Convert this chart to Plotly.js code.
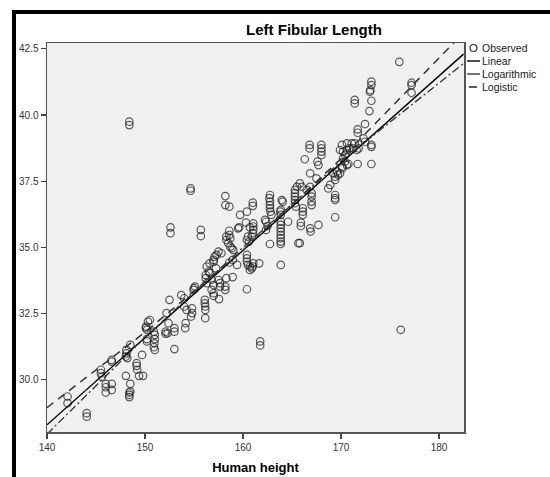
<!DOCTYPE html>
<html>
<head>
<meta charset="utf-8">
<script src="https://cdn.plot.ly/plotly-3.0.1.min.js"></script>
<style>
html,body{margin:0;padding:0;background:#fff;}
#wrap{position:relative;width:550px;height:477px;}
#chart{width:550px;height:477px;}
#frameTop{position:absolute;left:12px;top:10px;width:538px;height:4px;background:#000;pointer-events:none;}
#frameLeft{position:absolute;left:12px;top:10px;width:4px;height:467px;background:#000;pointer-events:none;}
</style>
</head>
<body>
<div id="wrap"><div id="chart"></div><div id="frameTop"></div><div id="frameLeft"></div></div>
<script>
// Observed data: human height (x) and left fibular length (y)
const height = [
142.1,142.1,144.05,144.05,145.5,145.5,145.6,146.0,146.0,146.0,146.6,146.6,146.6,146.6,
148.1,148.1,148.05,148.2,148.05,148.5,148.4,148.4,148.4,148.5,148.5,
149.15,149.15,149.2,149.4,149.8,149.7,
150.1,150.1,150.2,150.3,150.5,150.2,150.2,150.9,151.0,151.0,150.9,151.0,150.95,
152.1,152.1,152.3,152.2,152.4,153.0,153.0,153.0,152.5,
153.7,154.0,154.0,154.1,154.15,154.25,154.8,154.8,154.7,155.0,155.1,154.95,
156.1,156.1,156.15,156.15,156.15,
156.2,156.2,156.3,156.6,156.8,157.0,156.8,157.0,157.0,157.55,157.65,157.65,158.2,158.2,158.95,159.4,156.6,157.0,157.25,
156.3,156.5,157.0,157.1,157.3,157.5,157.8,157.5,158.3,160.4,
158.3,158.3,158.5,158.7,158.85,159.0,158.6,158.7,158.6,
159.6,159.7,160.4,160.3,158.6,158.95,
161.05,161.05,161.05,161.0,160.9,160.7,160.5,160.4,160.6,
160.4,160.4,160.4,160.5,160.7,160.9,160.7,161.0,161.05,161.65,
162.75,162.5,162.35,162.25,162.35,
162.7,162.75,162.75,162.75,162.8,162.9,162.75,
163.8,163.85,163.85,163.85,163.85,163.85,163.85,163.85,163.85,163.85,163.85,
164.05,163.95,163.85,164.6,
165.3,165.3,165.3,165.3,165.3,165.4,165.5,165.8,166.0,
166.1,166.1,166.1,165.9,165.9,165.65,165.8,
166.5,166.85,167.0,167.0,167.0,167.0,
166.3,166.8,166.8,167.6,167.7,168.0,168.0,168.0,168.0,
166.85,167.5,166.85,166.9,167.7,
168.7,168.9,169.2,169.4,169.4,169.6,169.7,169.4,169.4,169.4,169.4,
175.95,177.2,177.2,177.2,
173.1,173.1,173.0,172.95,173.1,172.9,171.4,171.4,172.45,171.7,171.7,
173.1,173.1,173.1,171.7,172.3,172.45,
170.6,170.85,170.6,170.4,170.2,170.1,169.9,171.4,171.25,171.6,171.8,171.1,
170.6,170.75,170.2,170.55,170.4,170.15,169.9,170.1,
148.4,148.4,154.65,154.65,152.6,152.6,155.7,155.7,158.2,158.2,158.6,159.5,161.0,161.0,
176.1,161.75,161.75
];
const fibula = [
29.37,29.12,28.74,28.61,30.38,30.25,30.12,29.85,29.72,29.52,29.85,29.62,30.75,30.69,
31.13,31.0,30.88,30.82,30.15,29.85,29.52,29.43,29.35,29.56,31.32,
30.63,30.53,30.38,30.15,30.15,30.94,
32.01,31.95,31.89,32.2,32.26,31.54,31.45,31.82,31.7,31.54,31.23,31.13,31.38,
31.82,31.74,31.76,32.52,32.14,31.95,31.82,31.16,33.02,
33.2,33.08,32.77,31.95,32.14,32.64,32.7,32.52,32.39,33.46,33.52,33.4,
33.02,32.89,32.77,32.64,32.33,
33.96,33.84,33.65,34.03,33.78,33.58,33.4,33.27,33.17,33.05,33.65,33.52,33.52,33.4,33.88,34.34,34.40,34.46,34.21,
34.28,34.09,34.53,34.65,34.72,34.84,34.78,33.77,33.84,33.42,
35.41,35.28,35.16,35.03,34.97,34.91,35.47,35.35,35.63,
35.76,36.23,36.35,35.94,34.43,34.53,
35.91,35.79,35.66,35.54,35.41,35.76,35.41,35.28,35.22,
34.72,34.59,34.46,34.34,34.28,34.21,34.15,34.28,34.40,34.40,
35.13,35.81,35.66,36.04,35.97,
36.86,36.73,36.6,36.48,36.35,36.23,36.98,
36.35,36.42,36.23,35.97,35.85,35.72,35.60,35.47,35.35,35.22,35.13,
36.73,36.79,34.34,35.97,
37.17,37.05,36.92,36.79,36.67,36.54,37.29,37.42,37.29,
36.48,36.35,36.23,35.94,35.81,35.16,35.16,
37.17,37.29,37.05,36.92,36.73,36.60,
38.33,38.87,38.74,38.24,38.11,38.87,38.74,38.62,38.49,
37.8,37.61,35.72,35.60,35.85,
37.23,37.36,37.8,37.67,37.55,37.86,37.74,36.98,36.86,36.79,36.14,
42.01,41.22,41.13,40.84,
41.26,41.13,40.94,40.88,40.54,40.15,40.57,40.44,39.66,39.46,39.33,
38.87,38.80,38.15,38.15,39.12,38.99,
38.93,38.74,38.68,38.49,38.62,38.87,38.68,38.93,38.74,38.68,38.74,38.93,
38.11,38.15,38.36,38.55,38.24,37.99,37.8,38.05,
39.75,39.62,37.23,37.14,35.76,35.54,35.66,35.43,36.94,36.6,36.54,35.72,36.69,36.57,
31.89,31.45,31.30
];
// Fitted curves
const fitX = [140, 150, 160, 170, 182.5];
const linearY = [28.3, 31.6, 34.89, 38.18, 42.3];
const logarithmicY = [27.95, 31.6, 35.0, 38.25, 41.95];
const logisticY = [28.95, 31.8, 34.9, 38.35, 43.1];
const xTicks = [140, 150, 160, 170, 180];
const yTicks = [30.0, 32.5, 35.0, 37.5, 40.0, 42.5];
const legendNames = ['Observed', 'Linear', 'Logarithmic', 'Logistic'];

const L = 47, T = 43, W = 417, H = 389;
const px = v => (v - L) / W;
const py = v => (T + H - v) / H;

const traces = [
  {x: height, y: fibula, type: 'scatter', mode: 'markers', name: legendNames[0], showlegend: false,
   marker: {symbol: 'circle-open', size: 7.5, color: 'rgba(30,30,30,0.72)', line: {width: 1.2}}},
  {x: fitX, y: linearY, type: 'scatter', mode: 'lines', name: legendNames[1], showlegend: false,
   line: {color: '#000', width: 1.4}},
  {x: fitX, y: logarithmicY, type: 'scatter', mode: 'lines', name: legendNames[2], showlegend: false,
   line: {color: '#333', width: 1.3, dash: '8px,3px,2px,3px'}},
  {x: fitX, y: logisticY, type: 'scatter', mode: 'lines', name: legendNames[3], showlegend: false,
   line: {color: '#333', width: 1.5, dash: '8px,6px'}}
];

const legY = [48, 61, 74, 87];
const shapes = [
  {type: 'circle', xref: 'paper', yref: 'paper', x0: px(470), x1: px(477), y0: py(legY[0] + 3.5), y1: py(legY[0] - 3.5),
   line: {color: '#333', width: 1.2}},
  {type: 'line', xref: 'paper', yref: 'paper', x0: px(467), x1: px(480), y0: py(legY[1]), y1: py(legY[1]), line: {color: '#000', width: 1.4}},
  {type: 'line', xref: 'paper', yref: 'paper', x0: px(467), x1: px(480), y0: py(legY[2]), y1: py(legY[2]), line: {color: '#555', width: 1.6}},
  {type: 'line', xref: 'paper', yref: 'paper', x0: px(469), x1: px(477), y0: py(legY[3]), y1: py(legY[3]), line: {color: '#333', width: 1.6}}
];
const annotations = legendNames.map((n, i) => ({
  text: n, xref: 'paper', yref: 'paper', x: px(480), y: py(legY[i]), xanchor: 'left', yanchor: 'middle',
  showarrow: false, font: {family: 'Liberation Sans, Arial, sans-serif', size: 10.5, color: '#222'}
}));

const layout = {
  width: 550, height: 477,
  margin: {l: L, t: T, r: 550 - L - W, b: 477 - T - H, pad: 0},
  paper_bgcolor: '#fff', plot_bgcolor: '#f0f0f0',
  font: {family: 'Liberation Sans, Arial, sans-serif', size: 10, color: '#333'},
  title: {text: '<b>Left Fibular Length</b>', x: px(314), xref: 'paper', xanchor: 'center',
          y: 1 - 30 / 477, yref: 'container', yanchor: 'middle',
          font: {family: 'Liberation Sans, Arial, sans-serif', size: 15, color: '#000'}},
  xaxis: {range: [140, 182.55], tickvals: xTicks, ticktext: xTicks.map(String),
          ticks: 'outside', ticklen: 5, tickwidth: 1.2, tickcolor: '#444',
          showline: true, linecolor: '#555', linewidth: 1.5, mirror: true, showgrid: false, zeroline: false,
          tickfont: {size: 10, color: '#333'},
          title: {text: '<b>Human height</b>', standoff: 11, font: {size: 13, color: '#000'}}},
  yaxis: {range: [28.03, 42.72], tickvals: yTicks, ticktext: yTicks.map(v => v.toFixed(1)),
          ticks: 'outside', ticklen: 5, tickwidth: 1.2, tickcolor: '#444',
          showline: true, linecolor: '#555', linewidth: 1.5, mirror: true, showgrid: false, zeroline: false,
          tickfont: {size: 10, color: '#333'}},
  shapes: shapes, annotations: annotations, showlegend: false
};
Plotly.newPlot('chart', traces, layout, {displayModeBar: false, staticPlot: true});
</script>
</body>
</html>
